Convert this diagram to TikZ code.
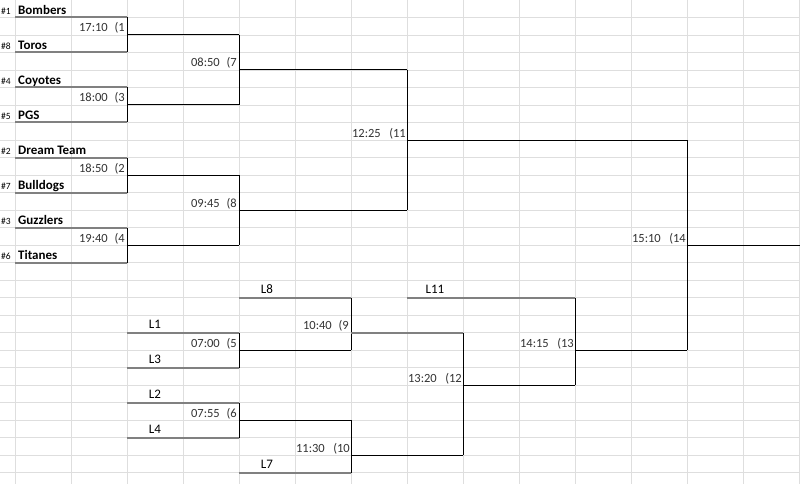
\documentclass[tikz,border=0pt]{standalone}
\usepackage{fontspec}
\setmainfont{Carlito}
\begin{document}
\begin{tikzpicture}[x=1pt,y=-1pt,
  grid/.style={draw=black!13,line width=0.8pt},
  name/.style={draw=black!50,line width=2pt},
  con/.style={draw=black,line width=1pt},
  tm/.style={anchor=base east,font=\fontsize{12.5}{13}\selectfont,text=black!80,inner sep=0pt},
  mn/.style={anchor=base east,font=\fontsize{12.5}{13}\selectfont,text=black!80,inner sep=0pt},
  seed/.style={anchor=base west,font=\fontsize{9.5}{10}\selectfont,inner sep=0pt},
  team/.style={anchor=base west,font=\bfseries\fontsize{13}{14}\selectfont,inner sep=0pt},
  lab/.style={anchor=base,font=\fontsize{13}{14}\selectfont,inner sep=0pt}]
\useasboundingbox (0,0) rectangle (800,484);
\fill[white] (0,0) rectangle (800,484);
% grid
\foreach \i in {0,...,14} \draw[grid] (15+56*\i,0) -- (15+56*\i,484);
\foreach \j in {1,...,27} \draw[grid] (0,17.5*\j) -- (800,17.5*\j);
% teams
\foreach \s/\t/\y in {1/Bombers/17.5,8/Toros/52.5,4/Coyotes/87.5,5/PGS/122.5,2/Dream Team/157.5,7/Bulldogs/192.5,3/Guzzlers/227.5,6/Titanes/262.5}{
  \node[seed] at (1,\y-3) {\#\s};
  \node[team] at (18,\y-3) {\t};
  \draw[name] (15,\y) -- (127,\y);
}
% first round connectors
\foreach \a in {17.5,87.5,157.5,227.5}{
  \draw[con] (127,\a) -- (127,\a+35);
  \draw[con] (127,\a+17.5) -- (239,\a+17.5);
}
\draw[con] (239,35) -- (239,105);  \draw[con] (239,70) -- (407,70);
\draw[con] (239,175) -- (239,245); \draw[con] (239,210) -- (407,210);
\draw[con] (407,70) -- (407,210);  \draw[con] (407,140) -- (687,140);
\draw[con] (687,140) -- (687,350); \draw[con] (687,245) -- (800,245);
% losers bracket
\foreach \l/\x/\y in {L1/127/332.5,L3/127/367.5,L2/127/402.5,L4/127/437.5,L8/239/297.5,L7/239/472.5,L11/407/297.5}{
  \node[lab] at (\x+28,\y-4) {\l};
  \draw[name] (\x,\y) -- (\x+112,\y);
}
\draw[name] (519,297.5) -- (575,297.5);
\draw[con] (239,332.5) -- (239,367.5); \draw[con] (239,350) -- (351,350);
\draw[con] (239,402.5) -- (239,437.5); \draw[con] (239,420) -- (351,420);
\draw[con] (351,297.5) -- (351,350);
\draw[name] (351,332.5) -- (463,332.5);
\draw[con] (351,420) -- (351,472.5); \draw[con] (351,455) -- (463,455);
\draw[con] (463,332.5) -- (463,455); \draw[con] (463,385) -- (575,385);
\draw[con] (575,297.5) -- (575,385); \draw[con] (575,350) -- (687,350);
% match labels
\foreach \t/\m/\x/\y in {17:10/1/127/35,18:00/3/127/105,18:50/2/127/175,19:40/4/127/245,
  08:50/7/239/70,09:45/8/239/210,
  07:00/5/239/350,07:55/6/239/420,10:40/9/351/332.5}{
  \node[tm] at (\x-19,\y-3) {\t};
  \node[mn] at (\x-2,\y-3) {(\m};
}
\foreach \t/\m/\x/\y in {12:25/11/407/140,15:10/14/687/245,11:30/10/351/455,
  13:20/12/463/385,14:15/13/575/350}{
  \node[tm] at (\x-26,\y-3) {\t};
  \node[mn] at (\x-1,\y-3) {(\m};
}
\end{tikzpicture}
\end{document}
